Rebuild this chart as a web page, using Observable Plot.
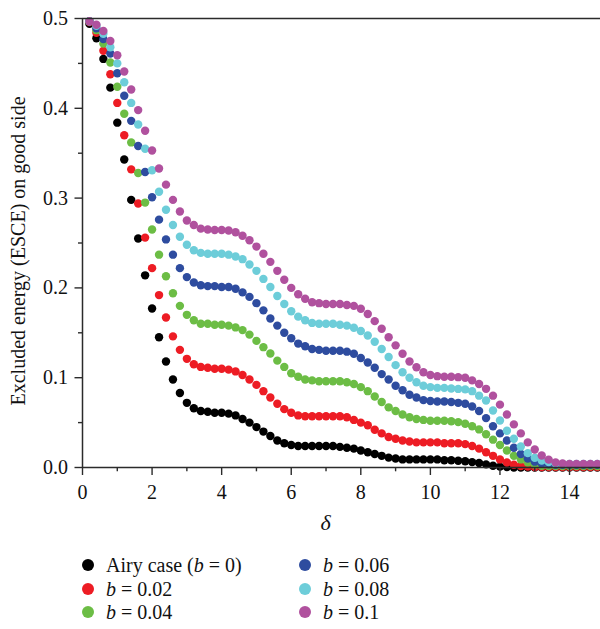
<!DOCTYPE html>
<html>
<head>
<meta charset="utf-8">
<script src="https://cdn.jsdelivr.net/npm/d3@7"></script>
<script src="https://cdn.jsdelivr.net/npm/@observablehq/plot@0.6"></script>
<style>
  html, body { margin: 0; padding: 0; background: #fff; }
  #chart { width: 600px; }
  .legend { position: relative; width: 600px; height: 84px; font-family: "Liberation Serif", "DejaVu Serif", serif; font-size: 20px; color: #111; }
  .item { position: absolute; display: flex; align-items: center; height: 20px; white-space: nowrap; }
  .sw { width: 12px; height: 12px; border-radius: 50%; margin-right: 12px; flex: none; }
  i { font-style: italic; }
</style>
</head>
<body>
<div id="chart"></div>
<div class="legend" id="legend"></div>
<script>
// delta values (x)
const delta = [0.2,0.4,0.6,0.8,1.0,1.2,1.4,1.6,1.8,2.0,2.2,2.4,2.6,2.8,3.0,3.2,3.4,3.6,3.8,4.0,
  4.2,4.4,4.6,4.8,5.0,5.2,5.4,5.6,5.8,6.0,6.2,6.4,6.6,6.8,7.0,7.2,7.4,7.6,7.8,8.0,
  8.2,8.4,8.6,8.8,9.0,9.2,9.4,9.6,9.8,10.0,10.2,10.4,10.6,10.8,11.0,11.2,11.4,11.6,11.8,12.0,
  12.2,12.4,12.6,12.8,13.0,13.2,13.4,13.6,13.8,14.0,14.2,14.4,14.6,14.8];

const airy = [0.494,0.478,0.455,0.423,0.384,0.343,0.298,0.255,0.214,0.177,0.145,0.118,0.098,0.083,0.072,0.066,0.063,0.062,0.061,0.061,
  0.060,0.058,0.054,0.050,0.045,0.040,0.035,0.030,0.027,0.025,0.024,0.024,0.024,0.024,0.024,0.024,0.023,0.022,0.021,0.019,
  0.017,0.015,0.013,0.011,0.010,0.009,0.009,0.009,0.009,0.009,0.009,0.008,0.008,0.0075,0.007,0.006,0.005,0.0035,0.002,0.001,
  0.0005,0,0,0,0,0,0,0,0,0,0,0,0,0];

const b002 = [0.496,0.484,0.464,0.438,0.406,0.370,0.332,0.294,0.256,0.222,0.192,0.167,0.146,0.131,0.121,0.115,0.112,0.111,0.110,0.110,
  0.109,0.107,0.103,0.098,0.092,0.085,0.078,0.071,0.065,0.061,0.058,0.057,0.057,0.057,0.057,0.057,0.057,0.056,0.053,0.050,
  0.047,0.042,0.038,0.034,0.032,0.030,0.029,0.028,0.028,0.028,0.028,0.027,0.027,0.027,0.026,0.024,0.021,0.017,0.013,0.009,
  0.0055,0.003,0.0015,0.001,0.0005,0.0005,0.0005,0.0005,0.0005,0.0005,0.0005,0.0005,0.0005,0.0005];

const b004 = [0.497,0.487,0.472,0.451,0.424,0.394,0.362,0.328,0.295,0.265,0.237,0.213,0.194,0.180,0.170,0.164,0.160,0.160,0.159,0.159,
  0.158,0.156,0.153,0.148,0.141,0.134,0.127,0.119,0.112,0.105,0.101,0.098,0.097,0.096,0.096,0.096,0.096,0.095,0.093,0.0895,
  0.085,0.079,0.073,0.067,0.063,0.059,0.056,0.054,0.053,0.052,0.052,0.052,0.0515,0.0505,0.0487,0.046,0.0424,0.037,0.031,0.025,
  0.019,0.013,0.009,0.0055,0.003,0.002,0.0015,0.0015,0.0015,0.0015,0.0015,0.0015,0.0015,0.0015];

const b006 = [0.497,0.489,0.477,0.461,0.439,0.414,0.386,0.358,0.329,0.301,0.276,0.254,0.237,0.222,0.212,0.206,0.203,0.202,0.202,0.201,
  0.201,0.199,0.195,0.190,0.183,0.175,0.166,0.158,0.150,0.144,0.138,0.135,0.132,0.131,0.130,0.130,0.130,0.129,0.1266,0.122,
  0.117,0.111,0.104,0.098,0.091,0.086,0.081,0.078,0.075,0.074,0.0735,0.0735,0.073,0.072,0.071,0.068,0.063,0.055,0.046,0.038,
  0.030,0.022,0.015,0.010,0.0065,0.0045,0.0035,0.003,0.003,0.003,0.003,0.003,0.003,0.003];

const b008 = [0.497,0.492,0.483,0.468,0.450,0.429,0.406,0.382,0.355,0.331,0.307,0.287,0.270,0.257,0.248,0.242,0.239,0.238,0.238,0.238,
  0.237,0.235,0.232,0.226,0.219,0.210,0.201,0.191,0.182,0.174,0.168,0.164,0.161,0.160,0.160,0.160,0.159,0.158,0.1556,0.152,
  0.147,0.140,0.132,0.123,0.114,0.106,0.100,0.095,0.091,0.0895,0.0887,0.0887,0.088,0.0875,0.087,0.085,0.080,0.0746,0.0635,0.0523,
  0.041,0.032,0.0234,0.016,0.0108,0.0078,0.006,0.0045,0.004,0.004,0.004,0.004,0.004,0.004];

const b010 = [0.497,0.493,0.486,0.475,0.459,0.441,0.421,0.398,0.375,0.353,0.333,0.315,0.298,0.285,0.275,0.270,0.266,0.265,0.2645,0.2645,
  0.264,0.262,0.258,0.253,0.246,0.238,0.229,0.219,0.209,0.200,0.193,0.188,0.184,0.183,0.182,0.182,0.182,0.181,0.180,0.1767,
  0.171,0.163,0.1545,0.145,0.136,0.1266,0.118,0.1116,0.106,0.103,0.1017,0.101,0.101,0.1006,0.100,0.097,0.093,0.0876,0.080,0.070,
  0.059,0.048,0.038,0.028,0.020,0.0134,0.0088,0.0055,0.0045,0.004,0.004,0.004,0.004,0.004];

const seriesNames = ["Airy case (b = 0)", "b = 0.02", "b = 0.04", "b = 0.06", "b = 0.08", "b = 0.1"];
const seriesValues = [airy, b002, b004, b006, b008, b010];
const seriesColors = ["#000000", "#ed1c24", "#6cbd45", "#2e4c9f", "#6dcdd9", "#b0519e"];
const legendHTML = ["Airy case (<i>b</i> = 0)", "<i>b</i> = 0.02", "<i>b</i> = 0.04", "<i>b</i> = 0.06", "<i>b</i> = 0.08", "<i>b</i> = 0.1"];

const xTicks = [0, 2, 4, 6, 8, 10, 12, 14];
const xMinorTicks = [1, 3, 5, 7, 9, 11, 13];
const yTicks = [0, 0.1, 0.2, 0.3, 0.4, 0.5];
const yMinorTicks = [0.05, 0.15, 0.25, 0.35, 0.45];
const yLabel = "Excluded energy (ESCE) on good side";
const xLabel = "δ";

const axisColor = "#2b2b2b";

const dotMarks = seriesValues.map((vals, k) =>
  Plot.dot(delta.map((d, i) => ({x: d, y: vals[i]})), {x: "x", y: "y", r: 4.2, fill: seriesColors[k], stroke: "none"})
);

const plot = Plot.plot({
  width: 600,
  height: 545,
  marginLeft: 82,
  marginRight: 0,
  marginTop: 18,
  marginBottom: 78,
  x: {domain: [0, 14.89]},
  y: {domain: [0, 0.5]},
  style: {fontFamily: "'Liberation Serif', 'DejaVu Serif', serif", fontSize: "20px", color: "#111", background: "#fff", overflow: "visible"},
  marks: [
    ...dotMarks,
    Plot.ruleY([0.5], {stroke: axisColor, strokeWidth: 1.5}),
    Plot.ruleY([0], {stroke: axisColor, strokeWidth: 1.5}),
    Plot.ruleX([0], {stroke: axisColor, strokeWidth: 1.5}),
    Plot.axisX({ticks: xTicks, tickSize: 8, tickPadding: 9, tickFormat: d => String(d), label: null, stroke: axisColor, strokeWidth: 1.4, fontSize: 20}),
    Plot.axisX({ticks: xMinorTicks, tickSize: 4.3, tickFormat: () => "", label: null, stroke: axisColor, strokeWidth: 1.4}),
    Plot.axisY({ticks: yTicks, tickSize: 7.5, tickPadding: 7, tickFormat: d => d.toFixed(1), label: null, stroke: axisColor, strokeWidth: 1.4, fontSize: 20}),
    Plot.axisY({ticks: yMinorTicks, tickSize: 4, tickFormat: () => "", label: null, stroke: axisColor, strokeWidth: 1.4}),
    Plot.text([yLabel], {frameAnchor: "left", textAnchor: "middle", rotate: -90, dx: -64, dy: 8, fontSize: 20, fill: "#111"}),
    Plot.text([xLabel], {frameAnchor: "bottom", dx: -16, dy: 62, fontSize: 22, fontStyle: "italic", fill: "#111"})
  ]
});
document.getElementById("chart").appendChild(plot);

// legend: two columns, column-major
const legend = document.getElementById("legend");
const colX = [82, 299];
const rowY = [10, 34, 57];
seriesNames.forEach((name, k) => {
  const col = Math.floor(k / 3), row = k % 3;
  const div = document.createElement("div");
  div.className = "item";
  div.style.left = colX[col] + "px";
  div.style.top = rowY[row] + "px";
  div.title = name;
  div.innerHTML = `<span class="sw" style="background:${seriesColors[k]}"></span><span>${legendHTML[k]}</span>`;
  legend.appendChild(div);
});
</script>
</body>
</html>
